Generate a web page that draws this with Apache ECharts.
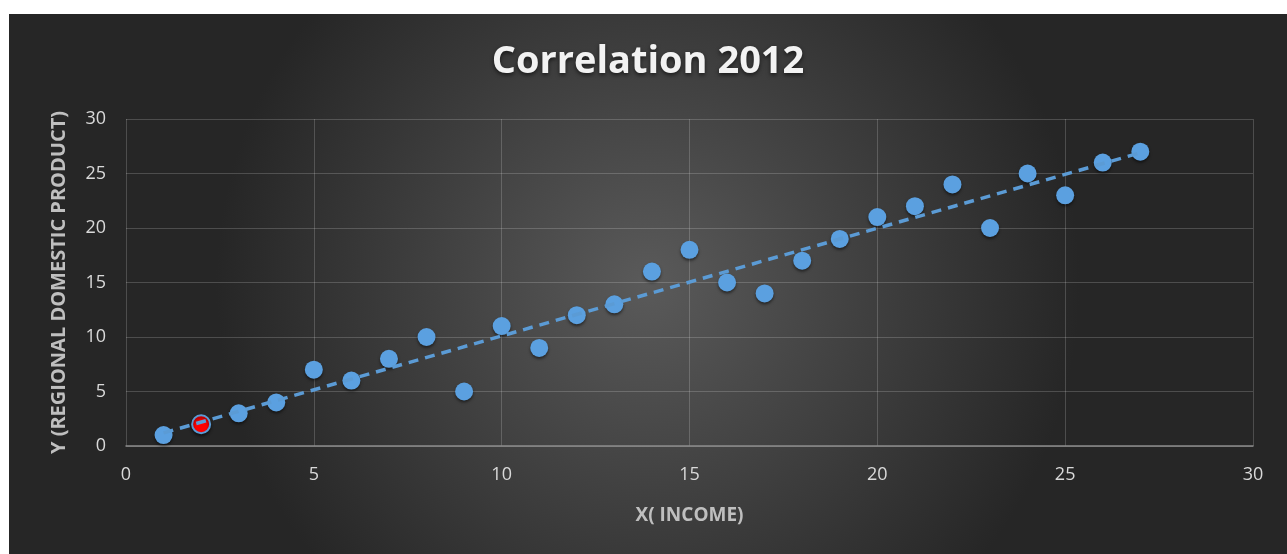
<!DOCTYPE html>
<html>
<head>
<meta charset="utf-8">
<script src="https://cdn.jsdelivr.net/npm/echarts@6/dist/echarts.min.js"></script>
<style>
  html, body { margin: 0; padding: 0; background: #fff; }
  #chart { position: absolute; left: 9px; top: 14px; width: 1278px; height: 540px; }
</style>
</head>
<body>
<div id="chart"></div>
<script>
  // 数据：x 为收入，y 为地区生产总值
  var xValues = [1, 2, 3, 4, 5, 6, 7, 8, 9, 10, 11, 12, 13, 14, 15, 16, 17, 18, 19, 20, 21, 22, 23, 24, 25, 26, 27];
  var yValues = [1, 2, 3, 4, 7, 6, 8, 10, 5, 11, 9, 12, 13, 16, 18, 15, 14, 17, 19, 21, 22, 24, 20, 25, 23, 26, 27];
  var highlightX = 2;
  // 趋势线两端
  var trendStart = [1, 1.2];
  var trendEnd = [27, 26.9];

  var pointData = xValues.map(function (x, i) {
    var item = { value: [x, yValues[i]] };
    if (x === highlightX) {
      item.itemStyle = { color: '#ff0000', borderColor: '#5b9bd5', borderWidth: 2 };
    }
    return item;
  });

  var myChart = echarts.init(document.getElementById('chart'));
  var option = {
    backgroundColor: {
      type: 'radial', x: 0.5, y: 0.5, r: 0.8,
      colorStops: [
        { offset: 0, color: '#5a5a5a' },
        { offset: 1, color: '#262626' }
      ]
    },
    title: {
      text: 'Correlation 2012',
      left: 'center',
      top: 24,
      textStyle: {
        color: '#f2f2f2',
        fontFamily: 'Open Sans',
        fontWeight: 'bold',
        fontSize: 38,
        textShadowColor: 'rgba(0,0,0,0.6)',
        textShadowBlur: 4,
        textShadowOffsetY: 2
      }
    },
    grid: { left: 117, top: 105, width: 1127, height: 327 },
    xAxis: {
      type: 'value',
      min: 0, max: 30, interval: 5,
      name: 'X( INCOME)',
      nameLocation: 'middle',
      nameGap: 60,
      nameTextStyle: { color: '#bfbfbf', fontFamily: 'Open Sans', fontWeight: 'bold', fontSize: 19 },
      axisLine: { show: true, lineStyle: { color: '#8c8c8c', width: 1.5 } },
      axisTick: { show: false },
      axisLabel: { color: '#d9d9d9', fontFamily: 'Open Sans', fontSize: 18, margin: 20 },
      splitLine: { show: true, lineStyle: { color: 'rgba(255,255,255,0.18)', width: 1 } }
    },
    yAxis: {
      type: 'value',
      min: 0, max: 30, interval: 5,
      name: 'Y (REGIONAL DOMESTIC PRODUCT)',
      nameLocation: 'middle',
      nameGap: 57,
      nameTextStyle: { color: '#bfbfbf', fontFamily: 'Open Sans', fontWeight: 'bold', fontSize: 20 },
      axisLine: { show: false },
      axisTick: { show: false },
      axisLabel: { color: '#d9d9d9', fontFamily: 'Open Sans', fontSize: 18, margin: 20 },
      splitLine: { show: true, lineStyle: { color: 'rgba(255,255,255,0.18)', width: 1 } }
    },
    series: [
      {
        name: 'trend',
        type: 'line',
        data: [trendStart, trendEnd],
        symbol: 'none',
        silent: true,
        z: 3,
        lineStyle: { color: '#5b9bd5', width: 3.5, type: [10, 7] }
      },
      {
        name: 'points',
        type: 'scatter',
        data: pointData,
        symbolSize: 18,
        z: 2,
        itemStyle: {
          color: '#5ba0e0',
          opacity: 1,
          shadowColor: 'rgba(0,0,0,0.5)',
          shadowBlur: 3,
          shadowOffsetY: 2
        }
      }
    ]
  };
  myChart.setOption(option);
</script>
</body>
</html>
